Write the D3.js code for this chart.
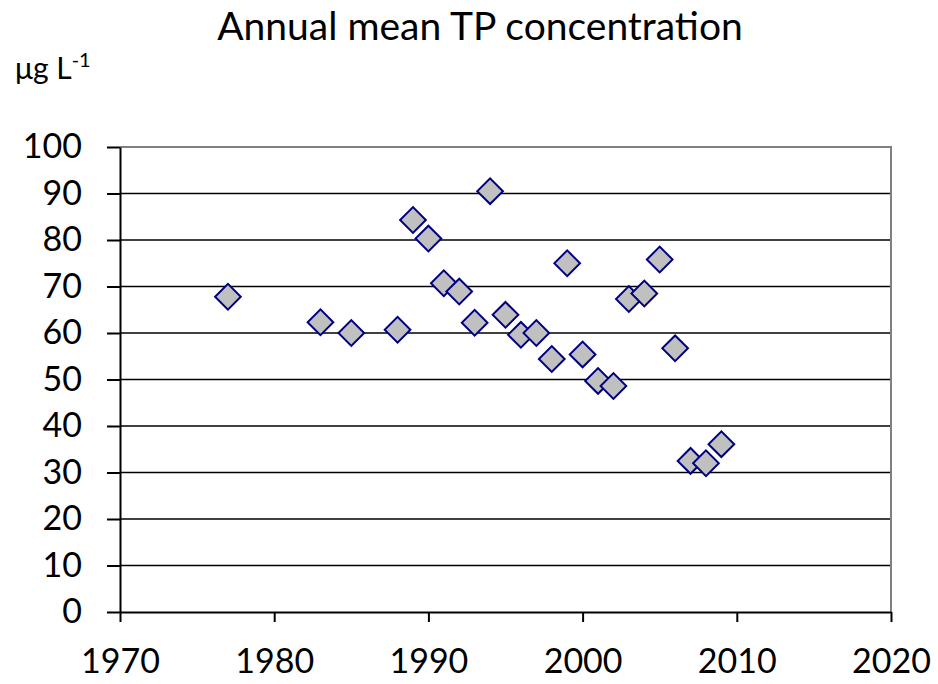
<!DOCTYPE html>
<html>
<head>
<meta charset="utf-8">
<script src="https://cdn.jsdelivr.net/npm/d3@7"></script>
<style>
	body { margin: 0; background: #fff; }
	svg { display: block; font-family: Lato, "Noto Sans", sans-serif; }
</style>
</head>
<body>
<svg id="chart" width="938" height="684"></svg>
<script>
// Annual mean TP concentration (scatter, Excel style)

// Years with a measurement
let years = [1977, 1983, 1985, 1988, 1989, 1990, 1991, 1992, 1993, 1994, 1995, 1996, 1997,
	1998, 1999, 2000, 2001, 2002, 2003, 2004, 2005, 2006, 2007, 2008, 2009];
// Mean TP (ug/L)
let tpValues = [67.8, 62.3, 60.0, 60.7, 84.3, 80.3, 70.7, 68.9, 62.2, 90.5, 63.9, 59.6, 60.0,
	54.4, 75.0, 55.4, 49.7, 48.6, 67.3, 68.5, 75.8, 56.7, 32.5, 32.0, 36.1];
// Axis ticks
let xTicks = [1970, 1980, 1990, 2000, 2010, 2020];
let yTicks = [0, 10, 20, 30, 40, 50, 60, 70, 80, 90, 100];

let svg = d3.select("#chart");

// Plot area (don't use "top", it's a window global)
let plotLeft = 120, plotRight = 891, plotTop = 147, plotBottom = 612;

let x = d3.scaleLinear().domain([1970, 2020]).range([plotLeft, plotRight]);
let y = d3.scaleLinear().domain([0, 100]).range([plotBottom, plotTop]);

// Horizontal gridlines
svg.append("g")
	.selectAll("line")
	.data(yTicks.filter(d => d > 0 && d < 100))
	.join("line")
	.attr("x1", plotLeft).attr("x2", plotRight)
	.attr("y1", d => y(d)).attr("y2", d => y(d))
	.attr("stroke", "#000")
	.attr("stroke-width", 1.4);

// Grey frame on top and right
svg.append("path")
	.attr("d", `M${plotLeft},${y(100)}H${plotRight}V${plotBottom}`)
	.attr("fill", "none")
	.attr("stroke", "#808080")
	.attr("stroke-width", 2);

// Y axis
let yAxis = svg.append("g")
	.attr("transform", `translate(${plotLeft},0)`)
	.call(d3.axisLeft(y).tickValues(yTicks).tickSize(13).tickPadding(25).tickSizeOuter(0));

// X axis
let xAxis = svg.append("g")
	.attr("transform", `translate(0,${plotBottom})`)
	.call(d3.axisBottom(x).tickValues(xTicks).tickFormat(d3.format("d")).tickSize(10).tickPadding(27).tickSizeOuter(0));

// Excel-like axis styling
[xAxis, yAxis].forEach(a => {
	a.select(".domain").attr("stroke", "#000").attr("stroke-width", 2);
	a.selectAll(".tick line").attr("stroke", "#000").attr("stroke-width", 2);
	a.selectAll("text").attr("fill", "#000").attr("font-size", 34).attr("font-family", "Lato, sans-serif");
});

// Diamond markers
let diamond = d3.symbol().type(d3.symbolSquare).size(330);
svg.append("g")
	.selectAll("path")
	.data(years.map((yr, i) => ({ year: yr, tp: tpValues[i] })))
	.join("path")
	.attr("d", diamond)
	.attr("transform", d => `translate(${x(d.year)},${y(d.tp)}) rotate(45)`)
	.attr("fill", "#c0c0c0")
	.attr("stroke", "#000080")
	.attr("stroke-width", 2);

// Title
svg.append("text")
	.attr("x", 480).attr("y", 40)
	.attr("text-anchor", "middle")
	.attr("font-size", 39)
	.text("Annual mean TP concentration");

// Unit label
let unit = svg.append("text")
	.attr("x", 15).attr("y", 79)
	.attr("font-size", 30);
unit.append("tspan").text("μg L");
unit.append("tspan").attr("dy", -12).attr("font-size", 20).text("-1");
</script>
</body>
</html>
